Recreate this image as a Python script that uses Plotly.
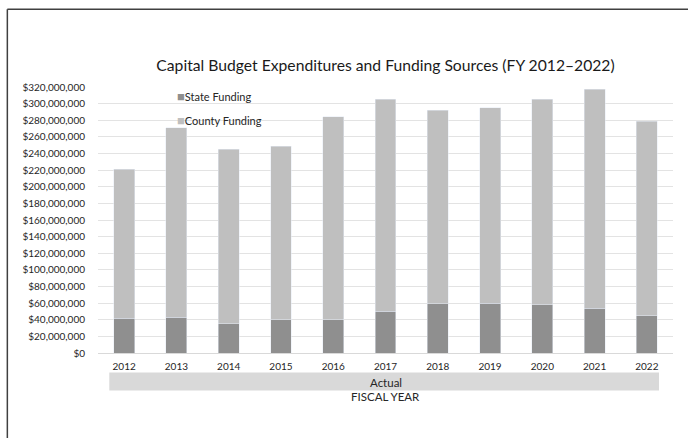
import plotly.graph_objects as go

years = ["2012", "2013", "2014", "2015", "2016", "2017", "2018", "2019", "2020", "2021", "2022"]
state_funding = [42e6, 43e6, 35e6, 40e6, 40e6, 50e6, 59e6, 60e6, 58e6, 54e6, 45e6]
county_funding = [179e6, 228e6, 210e6, 209e6, 244e6, 255e6, 233e6, 235e6, 247e6, 263e6, 234e6]
y_ticks = list(range(0, 320_000_001, 20_000_000))

STATE_C = "#8f8f8f"
COUNTY_C = "#bfbfbf"
TXT = "#262626"
FONT = "Lato"

fig = go.Figure()
fig.add_trace(go.Bar(x=years, y=state_funding, name="State Funding",
                     marker=dict(color=STATE_C), showlegend=False))
fig.add_trace(go.Bar(x=years, y=county_funding, name="County Funding",
                     marker=dict(color=COUNTY_C), showlegend=False))
# legend entries
for nm, c, g in [("State Funding", STATE_C, "a"), ("County Funding", COUNTY_C, "b")]:
    fig.add_trace(go.Scatter(x=[None], y=[None], mode="markers",
                             marker=dict(size=1, color="rgba(0,0,0,0)"),
                             name=f'<span style="color:{c};font-size:13px">■</span>{nm}',
                             legendgroup=g, showlegend=True))

fig.update_layout(
    width=688, height=438,
    margin=dict(l=98, r=15, t=87, b=84.5),
    paper_bgcolor="white", plot_bgcolor="white",
    barmode="stack", bargap=0.6,
    font=dict(family=FONT, size=10, color=TXT),
    title=dict(text="Capital Budget Expenditures and Funding Sources (FY 2012–2022)",
               x=0.5, xref="paper", xanchor="center", y=1 - 66 / 438, yanchor="middle",
               font=dict(family=FONT, size=15.7, color="#1a1a1a")),
    legend=dict(x=(137 - 98) / 575, xanchor="left", y=1 + (87 - 82) / 266.5, yanchor="top",
                traceorder="grouped", tracegroupgap=5, itemwidth=30,
                bgcolor="rgba(0,0,0,0)", font=dict(size=11, color=TXT)),
    xaxis=dict(type="category", showgrid=False, showline=True, linecolor="#d9d9d9",
               linewidth=1, ticks="", ticklabelstandoff=4,
               tickfont=dict(size=10, color=TXT)),
    yaxis=dict(range=[0, 320_000_000], tickvals=y_ticks, tickformat="$,.0f",
               showgrid=True, gridcolor="#e3e3e3", gridwidth=1, zeroline=False,
               ticks="", ticklabelstandoff=12, tickfont=dict(size=10, color=TXT)),
    showlegend=True,
)

# "Actual" band
fig.add_shape(type="rect", xref="paper", yref="paper",
              x0=(109 - 97.7) / 575.3, x1=(659 - 97.7) / 575.3,
              y0=(353.5 - 373) / 266.5, y1=(353.5 - 391) / 266.5,
              fillcolor="#d9d9d9", line=dict(width=0), layer="below")
fig.add_annotation(text="Actual", xref="paper", yref="paper", x=0.5, y=(353.5 - 383) / 266.5,
                   showarrow=False, yanchor="middle", font=dict(size=11.5, color=TXT))
fig.add_annotation(text="FISCAL YEAR", xref="paper", yref="paper", x=0.5, y=(353.5 - 397.5) / 266.5,
                   showarrow=False, yanchor="middle", font=dict(size=11.5, color=TXT))

# outer frame (top and left edges visible)
fx = (7 - 97.7) / 575.3
fy = (353.5 - 9) / 266.5
fig.add_shape(type="line", xref="paper", yref="paper", x0=fx, x1=1.2, y0=fy, y1=fy,
              line=dict(color="#404040", width=1.5))
fig.add_shape(type="line", xref="paper", yref="paper", x0=fx, x1=fx, y0=fy, y1=-0.5,
              line=dict(color="#404040", width=1.5))

fig.write_html("out.html")
